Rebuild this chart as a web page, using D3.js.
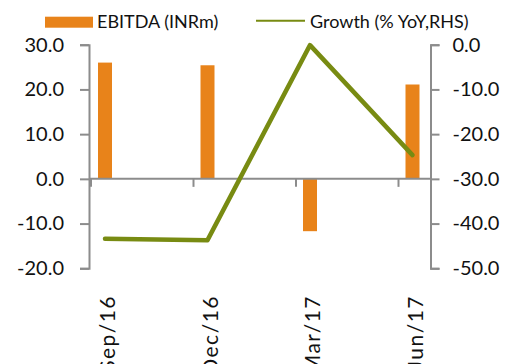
<!DOCTYPE html>
<html>
<head>
<meta charset="utf-8">
<script src="https://cdn.jsdelivr.net/npm/d3@7"></script>
<style>
  html, body { margin: 0; padding: 0; background: #fff; }
  svg { display: block; }
  text { font-family: Lato, "Open Sans", sans-serif; fill: #111; }
</style>
</head>
<body>
<svg id="chart" width="506" height="364"></svg>
<script>
// Quarterly EBITDA (left axis) and YoY growth (right axis)
const categories = ["Sep/16", "Dec/16", "Mar/17", "Jun/17"];
const ebitda = [26.0, 25.4, -11.7, 21.1];
const growth = [-43.4, -43.7, -0.1, -24.7];
const leftTicks = [-20, -10, 0, 10, 20, 30];
const rightTicks = [-50, -40, -30, -20, -10, 0];
const seriesNames = ["EBITDA (INRm)", "Growth (% YoY,RHS)"];

const barColor = "#E8831A";
const lineColor = "#788B12";
const axisColor = "#8C8C8C";

const svg = d3.select("#chart");

const plotTop = 44.7, plotBottom = 268.3;
const leftX = 89, rightX = 430.5;

const x = d3.scalePoint().domain(categories).range([105, 412.5]);
const yL = d3.scaleLinear().domain([-20, 30]).range([plotBottom, plotTop]);
const yR = d3.scaleLinear().domain([-50, 0]).range([plotBottom, plotTop]);
const fmt = d => d.toFixed(1);

// Bars
svg.append("g").selectAll("rect")
  .data(categories.map((c, i) => ({ c, v: ebitda[i] })))
  .join("rect")
  .attr("x", d => x(d.c) - 7)
  .attr("width", 14)
  .attr("y", d => yL(Math.max(0, d.v)))
  .attr("height", d => Math.abs(yL(d.v) - yL(0)))
  .attr("fill", barColor);

// Category axis along zero line
const xAxis = svg.append("g").attr("stroke", axisColor).attr("stroke-width", 2);
xAxis.append("line")
  .attr("x1", leftX).attr("x2", x(categories[categories.length - 1]) + 18)
  .attr("y1", yL(0)).attr("y2", yL(0));
xAxis.selectAll("line.tick")
  .data(categories)
  .join("line")
  .attr("class", "tick")
  .attr("x1", d => x(d) - 14).attr("x2", d => x(d) - 14)
  .attr("y1", yL(0)).attr("y2", yL(0) + 8);

// Left axis
const gL = svg.append("g")
  .attr("transform", `translate(${leftX},0)`)
  .call(d3.axisLeft(yL).tickValues(leftTicks).tickFormat(fmt).tickSize(9).tickPadding(16));
// Right axis
const gR = svg.append("g")
  .attr("transform", `translate(${rightX},0)`)
  .call(d3.axisRight(yR).tickValues(rightTicks).tickFormat(fmt).tickSize(9).tickPadding(13));

[gL, gR].forEach(g => {
  g.select(".domain").attr("stroke", axisColor).attr("stroke-width", 2);
  g.selectAll(".tick line").attr("stroke", axisColor).attr("stroke-width", 2);
  g.selectAll(".tick text")
    .attr("fill", "#111")
    .style("font-size", "20px")
    .style("font-family", "Lato, sans-serif");
});

// Growth line
svg.append("path")
  .datum(categories.map((c, i) => ({ c, v: growth[i] })))
  .attr("fill", "none")
  .attr("stroke", lineColor)
  .attr("stroke-width", 4.5)
  .attr("stroke-linejoin", "round")
  .attr("stroke-linecap", "round")
  .attr("d", d3.line().x(d => x(d.c)).y(d => yR(d.v)));

// Category labels, rotated
svg.append("g").selectAll("text")
  .data(categories)
  .join("text")
  .attr("transform", d => `translate(${x(d) + 10},295) rotate(-90)`)
  .attr("text-anchor", "end")
  .style("font-size", "21px")
  .style("letter-spacing", "1.5px")
  .text(d => d);

// Legend
const legend = svg.append("g");
legend.append("rect")
  .attr("x", 45).attr("y", 16.7).attr("width", 48).attr("height", 11)
  .attr("fill", barColor);
legend.append("text")
  .attr("x", 97).attr("y", 27.5)
  .style("font-size", "18px")
  .text(seriesNames[0]);
legend.append("line")
  .attr("x1", 256).attr("x2", 305).attr("y1", 20.7).attr("y2", 20.7)
  .attr("stroke", lineColor).attr("stroke-width", 2);
legend.append("text")
  .attr("x", 310).attr("y", 27.5)
  .style("font-size", "18px")
  .text(seriesNames[1]);
</script>
</body>
</html>
